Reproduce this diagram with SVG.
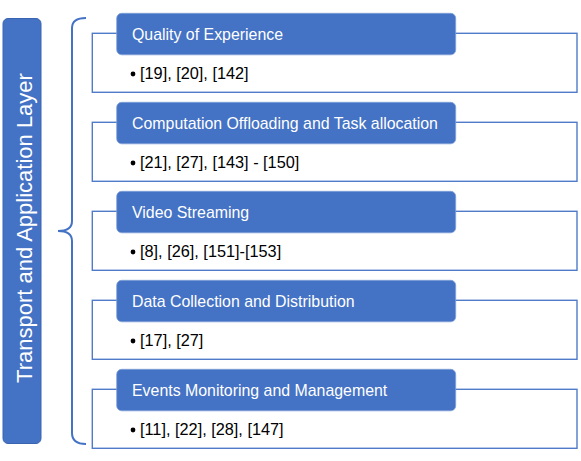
<svg xmlns="http://www.w3.org/2000/svg" width="581" height="461" viewBox="0 0 581 461">
<style>
.box{fill:#ffffff;stroke:#4f7bc8;stroke-width:1.4}
.hdr{fill:#4472c4;stroke:#7f9fd8;stroke-width:0.8}
.ht{font-family:"Liberation Sans",Arial,sans-serif;font-size:15.9px;fill:#ffffff}
.bt{font-family:"Liberation Sans",Arial,sans-serif;font-size:16.3px;fill:#000000}
.bul{fill:#000000}
.brace{fill:none;stroke:#4472c4;stroke-width:2}
</style>
<rect width="581" height="461" fill="#ffffff"/>
<g id="layer">
<rect x="3" y="18.5" width="38" height="425" rx="5" fill="#4472c4" stroke="#3a64b0" stroke-width="1"/>
<text transform="translate(31.5,228) rotate(-90)" text-anchor="middle" font-family="'Liberation Sans',Arial,sans-serif" font-size="22px" fill="#ffffff">Transport and Application Layer</text>
</g>
<g id="connectors">
<path class="brace" d="M86,18 Q72,18 72,28 V221 Q72,231 58,231 Q72,231 72,241 V433 Q72,444 86,444"/>
</g>
<g id="n1">
<rect class="box" x="92.3" y="33.3" width="484.7" height="59"/>
<rect class="hdr" x="116.7" y="13.3" width="339" height="41.5" rx="5"/>
<text class="ht" x="132" y="39.5">Quality of Experience</text>
<circle class="bul" cx="133" cy="74" r="2.4"/>
<text class="bt" x="140" y="78.5">[19], [20], [142]</text>
</g>
<g id="n2">
<rect class="box" x="92.3" y="122.3" width="484.7" height="59"/>
<rect class="hdr" x="116.7" y="102.3" width="339" height="41.5" rx="5"/>
<text class="ht" x="132" y="128.5">Computation Offloading and Task allocation</text>
<circle class="bul" cx="133" cy="163" r="2.4"/>
<text class="bt" x="140" y="167.5">[21], [27], [143] - [150]</text>
</g>
<g id="n3">
<rect class="box" x="92.3" y="211.3" width="484.7" height="59"/>
<rect class="hdr" x="116.7" y="191.3" width="339" height="41.5" rx="5"/>
<text class="ht" x="132" y="217.5">Video Streaming</text>
<circle class="bul" cx="133" cy="252" r="2.4"/>
<text class="bt" x="140" y="256.5">[8], [26], [151]-[153]</text>
</g>
<g id="n4">
<rect class="box" x="92.3" y="300.3" width="484.7" height="59"/>
<rect class="hdr" x="116.7" y="280.3" width="339" height="41.5" rx="5"/>
<text class="ht" x="132" y="306.5">Data Collection and Distribution</text>
<circle class="bul" cx="133" cy="341" r="2.4"/>
<text class="bt" x="140" y="345.5">[17], [27]</text>
</g>
<g id="n5">
<rect class="box" x="92.3" y="389.3" width="484.7" height="59"/>
<rect class="hdr" x="116.7" y="369.3" width="339" height="41.5" rx="5"/>
<text class="ht" x="132" y="395.5">Events Monitoring and Management</text>
<circle class="bul" cx="133" cy="430" r="2.4"/>
<text class="bt" x="140" y="434.5">[11], [22], [28], [147]</text>
</g>
</svg>
